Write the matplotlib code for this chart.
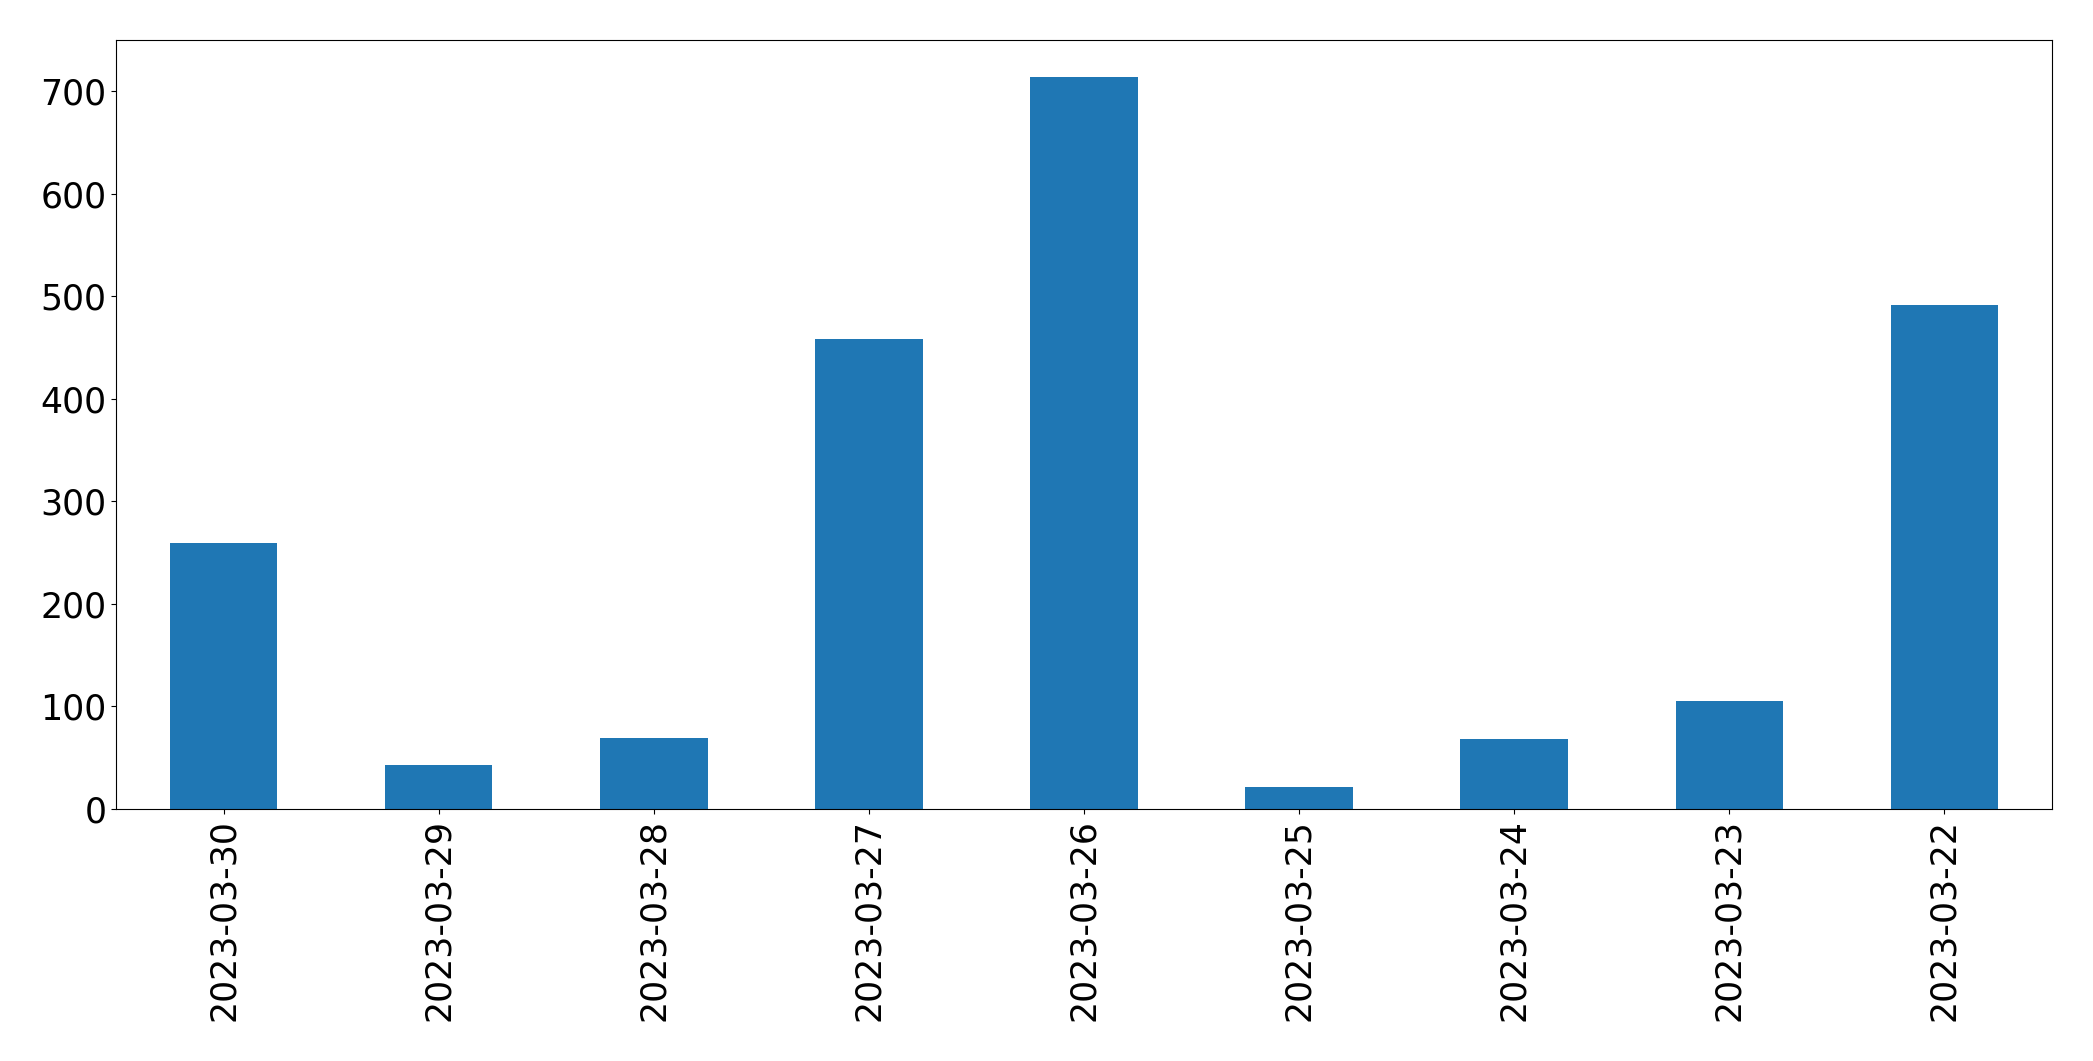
import matplotlib
matplotlib.use("Agg")
import matplotlib.pyplot as plt
import pandas as pd

dates = ["2023-03-30", "2023-03-29", "2023-03-28", "2023-03-27", "2023-03-26",
         "2023-03-25", "2023-03-24", "2023-03-23", "2023-03-22"]
counts = [259, 43, 69, 458, 714, 21, 68, 105, 491]

s = pd.Series(counts, index=dates)

fig = plt.figure(figsize=(20.93, 10.61), dpi=100)
# axes box placed to match the reference frame
ax = fig.add_axes([116 / 2093, 1 - 809 / 1061, (2052 - 116) / 2093, (809 - 40) / 1061])
s.plot(kind="bar", ax=ax, color="#1f77b4", width=0.5)
ax.tick_params(axis="both", labelsize=25)
plt.setp(ax.get_xticklabels(), rotation=90)
for sp in ax.spines.values():
    sp.set_color("black")

fig.savefig("out.png", dpi=100)
